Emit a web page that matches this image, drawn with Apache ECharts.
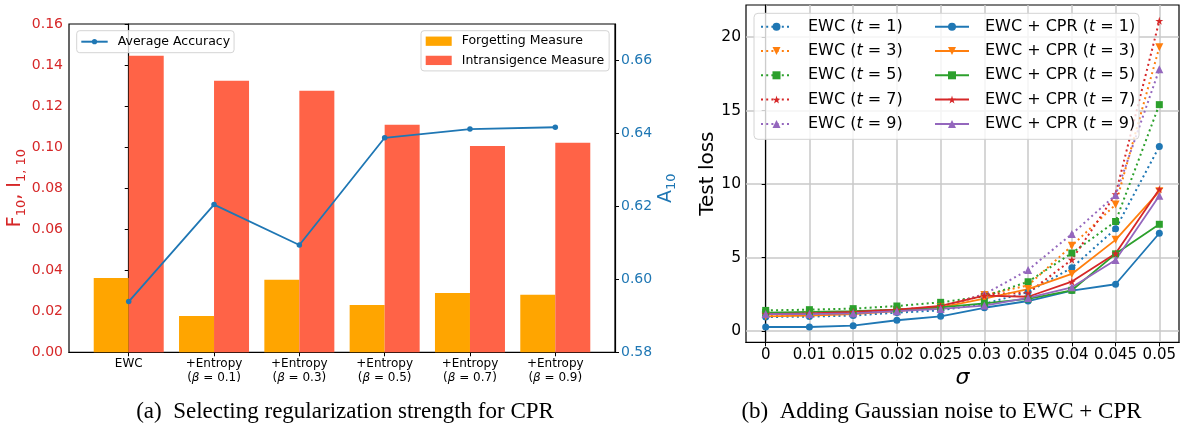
<!DOCTYPE html>
<html>
<head>
<meta charset="utf-8">
<script src="https://cdn.jsdelivr.net/npm/echarts@6/dist/echarts.min.js"></script>
<style>
  html, body { margin: 0; padding: 0; background: #fff; }
  #chart { width: 1180px; height: 427px; }
</style>
</head>
<body>
<div id="chart"></div>
<script>
// ---- Panel (a): regularization strength ----
const methodNames = ['EWC', '+Entropy', '+Entropy', '+Entropy', '+Entropy', '+Entropy'];
const betaValues = [null, '0.1', '0.3', '0.5', '0.7', '0.9'];
const forgetting = [0.0362, 0.0177, 0.0353, 0.0231, 0.0289, 0.0280];
const intransigence = [0.1445, 0.1323, 0.1275, 0.1109, 0.1006, 0.1021];
const avgAccuracy = [0.5939, 0.6205, 0.6094, 0.6388, 0.6412, 0.6417];
const accuracyTicks = [0.58, 0.60, 0.62, 0.64, 0.66];

// ---- Panel (b): Gaussian noise ----
const sigmaLabels = ['0', '0.01', '0.015', '0.02', '0.025', '0.03', '0.035', '0.04', '0.045', '0.05'];
const lossTicks = [0, 5, 10, 15, 20];
const ewcT1 = [0.95, 0.98, 1.05, 1.25, 1.40, 1.85, 2.65, 4.30, 6.95, 12.55];
const ewcT3 = [1.05, 1.10, 1.20, 1.40, 1.60, 2.45, 3.10, 5.80, 8.60, 19.30];
const ewcT5 = [1.40, 1.45, 1.52, 1.70, 1.95, 2.35, 3.35, 5.30, 7.45, 15.40];
const ewcT7 = [1.15, 1.20, 1.30, 1.45, 1.65, 2.50, 2.60, 4.85, 9.30, 21.10];
const ewcT9 = [1.20, 1.25, 1.30, 1.40, 1.60, 2.50, 4.15, 6.60, 9.25, 17.80];
const cprT1 = [0.27, 0.27, 0.36, 0.73, 1.00, 1.58, 2.04, 2.75, 3.18, 6.65];
const cprT3 = [1.00, 1.05, 1.15, 1.35, 1.60, 2.20, 2.85, 3.88, 6.20, 9.50];
const cprT5 = [1.25, 1.30, 1.35, 1.45, 1.60, 1.88, 2.18, 2.77, 5.25, 7.26];
const cprT7 = [1.15, 1.20, 1.30, 1.45, 1.70, 2.40, 2.33, 3.36, 5.28, 9.65];
const cprT9 = [1.15, 1.15, 1.20, 1.35, 1.50, 1.73, 2.25, 2.97, 4.83, 9.20];

const FONT = 'DejaVu Sans';
const SERIF = 'Liberation Serif';
const TAB = { blue: '#1f77b4', orange: '#ff7f0e', green: '#2ca02c', red: '#d62728', purple: '#9467bd' };
const MEASURE_RED = '#d62728';

const STAR = 'path://M50,0 L61.2,34.5 L97.6,34.5 L68.2,55.9 L79.4,90.5 L50,69.1 L20.6,90.5 L31.8,55.9 L2.4,34.5 L38.8,34.5 Z';
const TRI_DOWN = 'path://M0,0 L10,0 L5,8.66 Z';

const idx = arr => arr.map((v, i) => [i, v]);

const lossSeriesDefs = [
  { name: 'EWC (t = 1)', values: ewcT1, color: TAB.blue, symbol: 'circle', size: 7, dotted: true },
  { name: 'EWC (t = 3)', values: ewcT3, color: TAB.orange, symbol: TRI_DOWN, size: 8, dotted: true },
  { name: 'EWC (t = 5)', values: ewcT5, color: TAB.green, symbol: 'rect', size: 7, dotted: true },
  { name: 'EWC (t = 7)', values: ewcT7, color: TAB.red, symbol: STAR, size: 8, dotted: true },
  { name: 'EWC (t = 9)', values: ewcT9, color: TAB.purple, symbol: 'triangle', size: 8, dotted: true },
  { name: 'EWC + CPR (t = 1)', values: cprT1, color: TAB.blue, symbol: 'circle', size: 7, dotted: false },
  { name: 'EWC + CPR (t = 3)', values: cprT3, color: TAB.orange, symbol: TRI_DOWN, size: 8, dotted: false },
  { name: 'EWC + CPR (t = 5)', values: cprT5, color: TAB.green, symbol: 'rect', size: 7, dotted: false },
  { name: 'EWC + CPR (t = 7)', values: cprT7, color: TAB.red, symbol: STAR, size: 8, dotted: false },
  { name: 'EWC + CPR (t = 9)', values: cprT9, color: TAB.purple, symbol: 'triangle', size: 8, dotted: false }
];

const lossSeries = lossSeriesDefs.map(d => ({
  name: d.name,
  type: 'line',
  xAxisIndex: 1,
  yAxisIndex: 2,
  data: idx(d.values),
  symbol: d.symbol,
  symbolSize: d.size,
  showAllSymbol: true,
  color: d.color,
  itemStyle: { color: d.color },
  lineStyle: { color: d.color, width: d.dotted ? 2 : 1.8, type: d.dotted ? [2, 3.2] : 'solid' },
  z: 2
}));

// legend label with italic t
const tLegendFormatter = name => {
  const m = name.match(/^(.*)\(t = (\d)\)$/);
  return '{g|}{n|' + m[1] + '(}{i|t}{n| = ' + m[2] + ')}';
};
const tLegendRich = {
  g: { width: 11 },
  n: { fontFamily: FONT, fontSize: 16, color: '#000', lineHeight: 16 },
  i: { fontFamily: FONT, fontSize: 16, color: '#000', fontStyle: 'italic', lineHeight: 16 }
};

const simpleLegendFormatter = name => '{g|}{n|' + name + '}';
const simpleLegendRich = {
  g: { width: 5 },
  n: { fontFamily: FONT, fontSize: 12.5, color: '#000', lineHeight: 13 }
};

const catLabel = v => {
  const i = Math.round(v);
  if (betaValues[i] === null) return '{n|' + methodNames[i] + '}';
  return '{n|' + methodNames[i] + '}\n{n|(}{b|β}{n| = ' + betaValues[i] + ')}';
};

const option = {
  animation: false,
  backgroundColor: '#fff',
  grid: [
    { left: 69, right: 565, top: 24, bottom: 74.7, show: true, borderColor: '#000', borderWidth: 1.2, backgroundColor: 'transparent' },
    { left: 746, right: 1, top: 5, bottom: 84.7, show: true, borderColor: '#000', borderWidth: 1.2, backgroundColor: 'transparent' }
  ],
  xAxis: [
    {
      type: 'value', gridIndex: 0, min: -0.7, max: 5.7,
      axisLine: { show: true, onZero: false, lineStyle: { color: '#000', width: 1.2 } },
      axisTick: { show: true, length: 4, customValues: [0, 1, 2, 3, 4, 5], lineStyle: { color: '#000' } },
      axisLabel: {
        customValues: [0, 1, 2, 3, 4, 5], margin: 5, formatter: catLabel,
        rich: {
          n: { fontFamily: FONT, fontSize: 12, color: '#000', lineHeight: 14 },
          b: { fontFamily: FONT, fontSize: 12, color: '#000', fontStyle: 'italic', lineHeight: 14 }
        }
      },
      splitLine: { show: false }
    },
    {
      type: 'value', gridIndex: 1, min: -0.45, max: 9.45,
      name: 'σ', nameLocation: 'middle', nameGap: 18,
      nameTextStyle: { fontFamily: FONT, fontSize: 22, fontStyle: 'italic', color: '#000' },
      axisLine: { show: true, onZero: false, lineStyle: { color: '#000', width: 1.2 } },
      axisTick: { show: true, length: 4, customValues: [0, 1, 2, 3, 4, 5, 6, 7, 8, 9], lineStyle: { color: '#000' } },
      axisLabel: {
        customValues: [0, 1, 2, 3, 4, 5, 6, 7, 8, 9], margin: 5,
        formatter: v => sigmaLabels[Math.round(v)],
        fontFamily: FONT, fontSize: 15, color: '#000'
      },
      splitLine: { show: true, lineStyle: { color: '#c8c8c8', width: 1.5 } }
    }
  ],
  yAxis: [
    {
      type: 'value', gridIndex: 0, min: 0, max: 0.16, interval: 0.02,
      name: '{m|F}{s|10}{m|, I}{s|1, 10}', nameLocation: 'middle', nameGap: 38,
      nameTextStyle: {
        rich: {
          m: { fontFamily: FONT, fontSize: 19, color: MEASURE_RED },
          s: { fontFamily: FONT, fontSize: 13, color: MEASURE_RED, padding: [12, 0, 0, 0] }
        }
      },
      axisLine: { show: true, lineStyle: { color: '#000', width: 1.2 } },
      axisTick: { show: true, length: 4, lineStyle: { color: '#000' } },
      axisLabel: { margin: 6, formatter: v => v.toFixed(2), fontFamily: FONT, fontSize: 14, color: MEASURE_RED },
      splitLine: { show: false }
    },
    {
      type: 'value', gridIndex: 0, position: 'right', min: 0.58, max: 0.67,
      name: '{m|A}{s|10}', nameLocation: 'middle', nameGap: 36,
      nameTextStyle: {
        rich: {
          m: { fontFamily: FONT, fontSize: 19, color: TAB.blue },
          s: { fontFamily: FONT, fontSize: 13, color: TAB.blue, padding: [12, 0, 0, 0] }
        }
      },
      axisLine: { show: true, lineStyle: { color: '#000', width: 1.2 } },
      axisTick: { show: true, length: 4, customValues: accuracyTicks, lineStyle: { color: '#000' } },
      axisLabel: { customValues: accuracyTicks, margin: 6, formatter: v => v.toFixed(2), fontFamily: FONT, fontSize: 14, color: TAB.blue },
      splitLine: { show: false }
    },
    {
      type: 'value', gridIndex: 1, min: -0.77, max: 22.18,
      name: 'Test loss', nameLocation: 'middle', nameGap: 28,
      nameTextStyle: { fontFamily: FONT, fontSize: 20, color: '#000' },
      axisLine: { show: true, lineStyle: { color: '#000', width: 1.2 } },
      axisTick: { show: true, length: 4, customValues: lossTicks, lineStyle: { color: '#000' } },
      axisLabel: { customValues: lossTicks, margin: 5, fontFamily: FONT, fontSize: 15.5, color: '#000' },
      splitLine: { show: true, lineStyle: { color: '#c8c8c8', width: 1.5 } }
    }
  ],
  legend: [
    {
      data: ['Average Accuracy'],
      left: 76.7, top: 30.7, orient: 'vertical',
      padding: [4.5, 4, 4.5, 3.6],
      itemWidth: 26.4, itemHeight: 6.5,
      backgroundColor: 'rgba(255,255,255,0.8)', borderColor: '#d4d4d4', borderWidth: 1, borderRadius: 3,
      formatter: simpleLegendFormatter,
      textStyle: { rich: simpleLegendRich },
      selectedMode: false
    },
    {
      data: ['Forgetting Measure', 'Intransigence Measure'],
      left: 421, top: 30.7, orient: 'vertical',
      padding: [4, 5, 4, 4.7], itemGap: 6.2,
      icon: 'rect', itemWidth: 26, itemHeight: 9.3,
      backgroundColor: 'rgba(255,255,255,0.8)', borderColor: '#d4d4d4', borderWidth: 1, borderRadius: 3,
      formatter: simpleLegendFormatter,
      textStyle: { rich: simpleLegendRich },
      selectedMode: false
    },
    {
      data: lossSeriesDefs.slice(0, 5).map(d => d.name),
      left: 760, top: 18.7, orient: 'vertical', padding: 0, itemGap: 8.3,
      itemWidth: 31, itemHeight: 10,
      formatter: tLegendFormatter,
      textStyle: { rich: tLegendRich },
      selectedMode: false
    },
    {
      data: lossSeriesDefs.slice(5).map(d => d.name),
      left: 934, top: 18.7, orient: 'vertical', padding: 0, itemGap: 8.3,
      itemWidth: 34, itemHeight: 10,
      formatter: tLegendFormatter,
      textStyle: { rich: tLegendRich },
      selectedMode: false
    }
  ],
  graphic: {
    elements: [
      {
        type: 'rect', z: 3,
        shape: { x: 754, y: 13.3, width: 385, height: 126, r: 4 },
        style: { fill: 'rgba(255,255,255,0.8)', stroke: '#d4d4d4', lineWidth: 1 }
      },
      {
        type: 'text', x: 345, y: 412,
        style: {
          text: '(a)  Selecting regularization strength for CPR', font: '23px "' + SERIF + '"', fill: '#000',
          align: 'center', verticalAlign: 'middle'
        }
      },
      {
        type: 'text', x: 941.5, y: 412,
        style: {
          text: '(b)  Adding Gaussian noise to EWC + CPR', font: '23px "' + SERIF + '"', fill: '#000',
          align: 'center', verticalAlign: 'middle'
        }
      }
    ]
  },
  series: [
    {
      name: 'Forgetting Measure', type: 'bar', xAxisIndex: 0, yAxisIndex: 0,
      data: idx(forgetting), barWidth: 35, barGap: '0%',
      itemStyle: { color: '#ffa500' }, z: 2
    },
    {
      name: 'Intransigence Measure', type: 'bar', xAxisIndex: 0, yAxisIndex: 0,
      data: idx(intransigence), barWidth: 35, barGap: '0%',
      itemStyle: { color: '#ff6347' }, z: 2
    },
    {
      name: 'Average Accuracy', type: 'line', xAxisIndex: 0, yAxisIndex: 1,
      data: idx(avgAccuracy), symbol: 'circle', symbolSize: 5.5,
      itemStyle: { color: TAB.blue }, lineStyle: { color: TAB.blue, width: 1.8 }, z: 3
    },
    ...lossSeries
  ]
};

const chart = echarts.init(document.getElementById('chart'), null, { renderer: 'canvas' });
chart.setOption(option);
</script>
</body>
</html>
